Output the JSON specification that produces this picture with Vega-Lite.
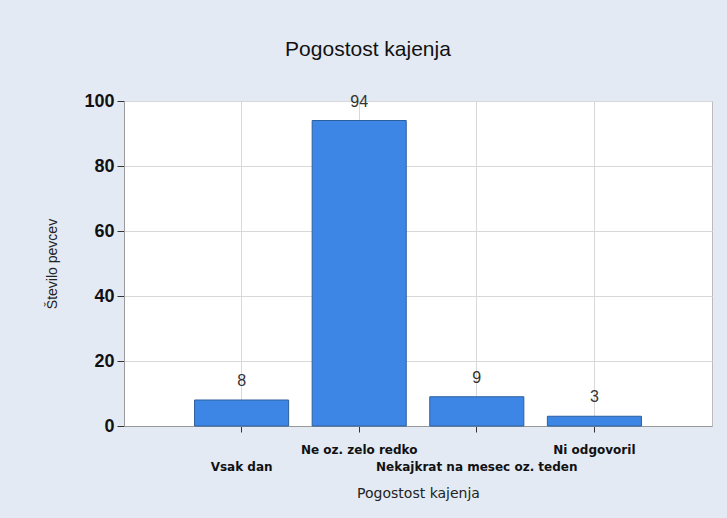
{
  "$schema": "https://vega.github.io/schema/vega-lite/v6.json",
  "autosize": {"type": "none"},
  "width": 588,
  "height": 325,
  "padding": {"left": 124, "top": 101, "right": 15, "bottom": 92},
  "background": "#e3eaf4",
  "title": {
    "text": "Pogostost kajenja",
    "font": "Liberation Sans Narrow, Liberation Sans",
    "fontSize": 21,
    "fontWeight": "normal",
    "color": "#111",
    "anchor": "middle",
    "dx": -50,
    "offset": 32
  },
  "data": {
    "values": [
      {"kategorija": "Vsak dan", "stevilo": 8},
      {"kategorija": "Ne oz. zelo redko", "stevilo": 94},
      {"kategorija": "Nekajkrat na mesec oz. teden", "stevilo": 9},
      {"kategorija": "Ni odgovoril", "stevilo": 3}
    ]
  },
  "config": {
    "view": {"fill": "white", "stroke": "#bbbbbb"}
  },
  "encoding": {
    "x": {
      "field": "kategorija",
      "type": "nominal",
      "sort": null,
      "scale": {"paddingInner": 0.2, "paddingOuter": 0.6},
      "axis": {
        "title": "Pogostost kajenja",
        "titleFont": "DejaVu Sans",
        "titleFontSize": 14,
        "titleFontWeight": "normal",
        "titleColor": "#222",
        "titlePadding": 14,
        "labelAngle": 0,
        "labelFont": "DejaVu Sans",
        "labelFontSize": 12,
        "labelFontWeight": "bold",
        "labelColor": "#111",
        "labelPadding": 12,
        "labelLineHeight": 17,
        "labelBaseline": "top",
        "labelLimit": 0,
        "labelOverlap": false,
        "labelExpr": "indexof(['Vsak dan','Nekajkrat na mesec oz. teden'], datum.value) >= 0 ? ['', datum.label] : datum.label",
        "grid": true,
        "gridColor": "#d8d8d8",
        "domainColor": "#999999",
        "tickColor": "#333333",
        "tickSize": 6
      }
    },
    "y": {
      "field": "stevilo",
      "type": "quantitative",
      "scale": {"domain": [0, 100], "nice": false},
      "axis": {
        "title": "Število pevcev",
        "titleFont": "Liberation Sans Narrow, Liberation Sans",
        "titleFontSize": 14,
        "titleFontWeight": "normal",
        "titleColor": "#222",
        "titlePadding": 24,
        "values": [0, 20, 40, 60, 80, 100],
        "labelFont": "Liberation Sans",
        "labelFontSize": 18,
        "labelFontWeight": 600,
        "labelColor": "#111",
        "labelPadding": 3,
        "grid": true,
        "gridColor": "#d8d8d8",
        "domainColor": "#999999",
        "tickColor": "#333333",
        "tickSize": 7
      }
    }
  },
  "layer": [
    {
      "mark": {"type": "bar", "fill": "#3d86e6", "stroke": "#2d5f9e", "strokeWidth": 1}
    },
    {
      "mark": {
        "type": "text",
        "baseline": "bottom",
        "dy": -11,
        "font": "Liberation Sans Narrow, Liberation Sans",
        "fontSize": 16,
        "color": "#333"
      },
      "encoding": {"text": {"field": "stevilo", "type": "quantitative"}}
    }
  ]
}
